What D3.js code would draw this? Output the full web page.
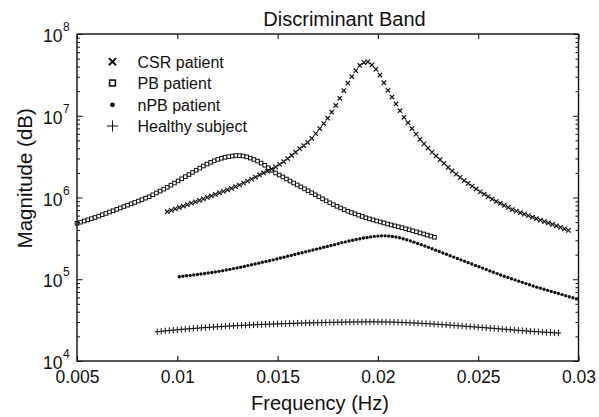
<!DOCTYPE html>
<html>
<head>
<meta charset="utf-8">
<script src="https://cdn.jsdelivr.net/npm/d3@7"></script>
<style>
  html, body { margin: 0; padding: 0; background: #fff; }
  svg { display: block; font-family: "Liberation Sans", Arial, Helvetica, sans-serif; }
</style>
</head>
<body>
<svg id="chart" width="599" height="417"></svg>
<script>
// ---------- data ----------
const seriesNames = ["CSR patient", "PB patient", "nPB patient", "Healthy subject"];

const xTickValues = [0.005, 0.01, 0.015, 0.02, 0.025, 0.03];
const xTickLabels = ["0.005", "0.01", "0.015", "0.02", "0.025", "0.03"];
const yTickValues = [1e4, 1e5, 1e6, 1e7, 1e8];
const yTickExponents = ["4", "5", "6", "7", "8"];

const csrFreq = [
0.0095,0.0097,0.0099,0.0101,0.0103,0.0105,0.0107,0.0109,0.0111,0.0113,
0.0115,0.0117,0.0119,0.0121,0.0123,0.0125,0.0127,0.0129,0.0131,0.0133,
0.0135,0.0137,0.0139,0.0141,0.0143,0.0145,0.0147,0.0149,0.0151,0.0153,
0.0155,0.0157,0.0159,0.0161,0.0163,0.0165,0.0167,0.0169,0.0171,0.0173,
0.0175,0.0177,0.0179,0.0181,0.0183,0.0185,0.0187,0.0189,0.0191,0.0193,
0.0195,0.0197,0.0199,0.0201,0.0203,0.0205,0.0207,0.0209,0.0211,0.0213,
0.0215,0.0217,0.0219,0.0221,0.0223,0.0225,0.0227,0.0229,0.0231,0.0233,
0.0235,0.0237,0.0239,0.0241,0.0243,0.0245,0.0247,0.0249,0.0251,0.0253,
0.0255,0.0257,0.0259,0.0261,0.0263,0.0265,0.0267,0.0269,0.0271,0.0273,
0.0275,0.0277,0.0279,0.0281,0.0283,0.0285,0.0287,0.0289,0.0291,0.0293,
0.0295];
const csrMag = [
670000,697000,726000,755000,787000,819000,853000,887000,925000,962000,
1002000,1045000,1089000,1137000,1188000,1242000,1297000,1358000,1422000,1499000,
1585000,1679000,1778000,1888000,1995000,2109000,2228000,2371000,2547000,2754000,
2992000,3266000,3581000,3954000,4315000,4732000,5297000,6040000,6966000,8035000,
9333000,11060000,13360000,16330000,20320000,25000000,30200000,35640000,41210000,44770000,
45710000,41780000,36990000,31480000,25350000,20460000,16950000,13930000,11530000,9572000,
8223000,6982000,5957000,5152000,4529000,4027000,3589000,3221000,2897000,2612000,
2334000,2113000,1932000,1762000,1611000,1489000,1377000,1271000,1172000,1096000,
1026000,957000,895000,845000,800000,755000,713000,681000,652000,625000,
600000,574000,551000,528000,508000,488000,468000,449000,431000,413000,
396000];

const pbFreq = [
0.00500,0.00518,0.00536,0.00554,0.00572,0.00590,0.00608,0.00626,0.00644,0.00662,
0.00680,0.00698,0.00716,0.00734,0.00752,0.00770,0.00788,0.00806,0.00824,0.00842,
0.00860,0.00878,0.00896,0.00914,0.00932,0.00950,0.00968,0.00986,0.01004,0.01022,
0.01040,0.01058,0.01076,0.01094,0.01112,0.01130,0.01148,0.01166,0.01184,0.01202,
0.01220,0.01238,0.01256,0.01274,0.01292,0.01310,0.01328,0.01346,0.01364,0.01382,
0.01400,0.01418,0.01436,0.01454,0.01472,0.01490,0.01508,0.01526,0.01544,0.01562,
0.01580,0.01598,0.01616,0.01634,0.01652,0.01670,0.01688,0.01706,0.01724,0.01742,
0.01760,0.01778,0.01796,0.01814,0.01832,0.01850,0.01868,0.01886,0.01904,0.01922,
0.01940,0.01958,0.01976,0.01994,0.02012,0.02030,0.02048,0.02066,0.02084,0.02102,
0.02120,0.02138,0.02156,0.02174,0.02192,0.02210,0.02228,0.02246,0.02264,0.02282];
const pbMag = [
483000,499000,516000,533000,552000,570000,592000,615000,638000,664000,
689000,716000,745000,775000,805000,838000,871000,906000,942000,982000,
1023000,1079000,1137000,1199000,1265000,1333000,1416000,1503000,1596000,1695000,
1799000,1909000,2028000,2153000,2286000,2427000,2565000,2692000,2812000,2924000,
3020000,3098000,3162000,3214000,3258000,3250000,3214000,3140000,3034000,2917000,
2786000,2636000,2478000,2312000,2148000,1995000,1884000,1783000,1683000,1592000,
1506000,1426000,1349000,1276000,1208000,1142000,1079000,1021000,964000,912000,
861000,819000,780000,745000,711000,679000,655000,631000,608000,586000,
565000,548000,532000,516000,502000,488000,474000,462000,450000,439000,
427000,414000,403000,391000,380000,369000,358000,347000,337000,326000];

const npbFreq = [
0.01010,0.01028,0.01046,0.01064,0.01082,0.01100,0.01118,0.01136,0.01154,0.01172,
0.01190,0.01208,0.01226,0.01244,0.01262,0.01280,0.01298,0.01316,0.01334,0.01352,
0.01370,0.01388,0.01406,0.01424,0.01442,0.01460,0.01478,0.01496,0.01514,0.01532,
0.01550,0.01568,0.01586,0.01604,0.01622,0.01640,0.01658,0.01676,0.01694,0.01712,
0.01730,0.01748,0.01766,0.01784,0.01802,0.01820,0.01838,0.01856,0.01874,0.01892,
0.01910,0.01928,0.01946,0.01964,0.01982,0.02000,0.02018,0.02036,0.02054,0.02072,
0.02090,0.02108,0.02126,0.02144,0.02162,0.02180,0.02198,0.02216,0.02234,0.02252,
0.02270,0.02288,0.02306,0.02324,0.02342,0.02360,0.02378,0.02396,0.02414,0.02432,
0.02450,0.02468,0.02486,0.02504,0.02522,0.02540,0.02558,0.02576,0.02594,0.02612,
0.02630,0.02648,0.02666,0.02684,0.02702,0.02720,0.02738,0.02756,0.02774,0.02792,
0.02810,0.02828,0.02846,0.02864,0.02882,0.02900,0.02918,0.02936,0.02954,0.02972,
0.02990];
const npbMag = [
107400,108700,110200,111400,112700,114300,115900,117500,119100,121100,
123000,125000,127400,129700,132100,134900,137700,140600,143500,146900,
150300,153800,157400,161100,164800,168700,172600,177000,181600,186200,
191000,195900,200900,206100,211300,216800,222300,228000,233900,239900,
246000,252300,258800,264900,272200,279300,286400,293100,299900,306900,
313300,319200,324300,329600,334200,337300,339600,339600,337300,333400,
328100,321400,313300,304100,294400,284400,274200,264200,254700,245500,
236000,227000,218300,209900,201800,194100,186600,179500,172600,166000,
159600,153500,147600,142200,136800,131500,126500,121900,117200,112700,
108900,105200,101600,98200,94800,91600,88500,85500,82600,80000,
77600,75300,73100,71000,68900,66800,64900,63000,61100,59300,
57500];

const healthyFreq = [
0.0090,0.0092,0.0094,0.0096,0.0098,0.0100,0.0102,0.0104,0.0106,0.0108,
0.0110,0.0112,0.0114,0.0116,0.0118,0.0120,0.0122,0.0124,0.0126,0.0128,
0.0130,0.0132,0.0134,0.0136,0.0138,0.0140,0.0142,0.0144,0.0146,0.0148,
0.0150,0.0152,0.0154,0.0156,0.0158,0.0160,0.0162,0.0164,0.0166,0.0168,
0.0170,0.0172,0.0174,0.0176,0.0178,0.0180,0.0182,0.0184,0.0186,0.0188,
0.0190,0.0192,0.0194,0.0196,0.0198,0.0200,0.0202,0.0204,0.0206,0.0208,
0.0210,0.0212,0.0214,0.0216,0.0218,0.0220,0.0222,0.0224,0.0226,0.0228,
0.0230,0.0232,0.0234,0.0236,0.0238,0.0240,0.0242,0.0244,0.0246,0.0248,
0.0250,0.0252,0.0254,0.0256,0.0258,0.0260,0.0262,0.0264,0.0266,0.0268,
0.0270,0.0272,0.0274,0.0276,0.0278,0.0280,0.0282,0.0284,0.0286,0.0288,
0.0290];
const healthyMag = [
22800,23080,23350,23610,23860,24100,24340,24570,24800,25020,
25230,25440,25650,25850,26040,26230,26410,26590,26760,26930,
27090,27250,27400,27550,27690,27830,27960,28090,28210,28330,
28450,28560,28670,28780,28880,28980,29080,29170,29260,29350,
29430,29510,29590,29660,29730,29790,29850,29910,29960,30010,
30050,30080,30100,30110,30110,30100,30060,30000,29920,29820,
29710,29590,29460,29320,29170,29010,28840,28660,28470,28270,
28070,27860,27650,27440,27220,27000,26780,26560,26340,26120,
25900,25680,25460,25240,25020,24800,24580,24360,24150,23940,
23730,23530,23330,23140,22950,22770,22600,22440,22290,22150,
22020];

// ---------- layout ----------
const svg = d3.select("#chart");
const L = 77, R = 578.5, T = 34, B = 361;
const x = d3.scaleLinear().domain([0.005, 0.03]).range([L, R]);
const y = d3.scaleLog().domain([1e4, 1e8]).range([B, T]);
const ink = "#111";

// Marker renderers
const markers = {
  cross: (g, s, w) => g.append("path")
      .attr("d", `M${-s},${-s}L${s},${s}M${-s},${s}L${s},${-s}`)
      .attr("stroke", ink).attr("stroke-width", w).attr("fill", "none"),
  square: (g, s, w) => g.append("rect")
      .attr("x", -s).attr("y", -s).attr("width", 2 * s).attr("height", 2 * s)
      .attr("stroke", ink).attr("stroke-width", w).attr("fill", "#fff"),
  dot: (g, s) => g.append("circle").attr("r", s).attr("fill", ink),
  plus: (g, s, w, sv) => g.append("path")
      .attr("d", `M${-s},0H${s}M0,${-(sv || s)}V${sv || s}`)
      .attr("stroke", ink).attr("stroke-width", w).attr("fill", "none")
};

function drawSeries(freq, mag, kind, s, w, sv) {
  const data = freq.map((f, i) => [f, mag[i]]);
  const g = svg.append("g");
  g.selectAll("g.pt").data(data).join("g")
    .attr("class", "pt")
    .attr("transform", d => `translate(${x(d[0])},${y(d[1])})`)
    .each(function () { markers[kind](d3.select(this), s, w, sv); });
}

drawSeries(healthyFreq, healthyMag, "plus", 2.6, 1, 3.2);
drawSeries(npbFreq, npbMag, "dot", 1.7);
drawSeries(pbFreq, pbMag, "square", 1.8, 1);
drawSeries(csrFreq, csrMag, "cross", 2.2, 1.2);

// ---------- axes ----------
const fontTick = 17.5;
const xAxisB = svg.append("g").attr("transform", `translate(0,${B})`)
  .call(d3.axisBottom(x).tickValues(xTickValues).tickSize(-5).tickSizeOuter(0)
    .tickFormat((d, i) => xTickLabels[i]));
xAxisB.select(".domain").remove();
xAxisB.selectAll("line").attr("stroke", ink).attr("stroke-width", 1.1);
xAxisB.selectAll("text").attr("y", 21.5).attr("dy", null)
  .attr("font-size", fontTick).attr("fill", ink)
  .attr("font-family", "'Liberation Sans', Arial, Helvetica, sans-serif");

const xAxisT = svg.append("g").attr("transform", `translate(0,${T})`)
  .call(d3.axisTop(x).tickValues(xTickValues).tickSize(-5).tickSizeOuter(0).tickFormat(""));
xAxisT.select(".domain").remove();
xAxisT.selectAll("line").attr("stroke", ink).attr("stroke-width", 1.1);

const minorY = y.ticks().filter(v => !yTickValues.some(m => Math.abs(m - v) / m < 1e-9));

function yAxisPair(values, size) {
  const gl = svg.append("g").attr("transform", `translate(${L},0)`)
    .call(d3.axisLeft(y).tickValues(values).tickSize(-size).tickSizeOuter(0).tickFormat(""));
  gl.select(".domain").remove();
  gl.selectAll("line").attr("stroke", ink).attr("stroke-width", 1);
  const gr = svg.append("g").attr("transform", `translate(${R},0)`)
    .call(d3.axisRight(y).tickValues(values).tickSize(-size).tickSizeOuter(0).tickFormat(""));
  gr.select(".domain").remove();
  gr.selectAll("line").attr("stroke", ink).attr("stroke-width", 1);
  return gl;
}
yAxisPair(minorY, 3);
const yMajor = yAxisPair(yTickValues, 5.5);
yMajor.selectAll(".tick").each(function (d, i) {
  const t = d3.select(this);
  t.append("text").attr("x", -14.5).attr("y", 7.5).attr("text-anchor", "end")
    .attr("font-size", fontTick).attr("fill", ink).text("10");
  t.append("text").attr("x", -14).attr("y", -3.5).attr("text-anchor", "start")
    .attr("font-size", 12).attr("fill", ink).text(yTickExponents[i]);
});

// frame
svg.append("rect").attr("x", L).attr("y", T).attr("width", R - L).attr("height", B - T)
  .attr("fill", "none").attr("stroke", ink).attr("stroke-width", 1.4);

// ---------- titles ----------
svg.append("text").attr("x", 344.5).attr("y", 26).attr("text-anchor", "middle")
  .attr("font-size", 20).attr("fill", ink).text("Discriminant Band");
svg.append("text").attr("x", 320).attr("y", 410).attr("text-anchor", "middle")
  .attr("font-size", 20).attr("fill", ink).text("Frequency (Hz)");
svg.append("text").attr("transform", "translate(31.5,178.3) rotate(-90)")
  .attr("text-anchor", "middle").attr("font-size", 20.5).attr("fill", ink)
  .text("Magnitude (dB)");

// ---------- legend ----------
const legendKinds = [
  { kind: "cross", s: 3.6, w: 2 },
  { kind: "square", s: 2.9, w: 1.6 },
  { kind: "dot", s: 2.4 },
  { kind: "plus", s: 5.6, w: 1, sv: 5.6 }
];
const legendRowsY = [61.7, 83, 104.8, 126];
const leg = svg.append("g");
seriesNames.forEach((name, i) => {
  const k = legendKinds[i];
  const m = leg.append("g").attr("transform", `translate(112.5,${legendRowsY[i]})`);
  markers[k.kind](m, k.s, k.w, k.sv);
  leg.append("text").attr("x", 137.5).attr("y", legendRowsY[i] + 5.8)
    .attr("font-size", 16).attr("fill", ink).text(name);
});
</script>
</body>
</html>
